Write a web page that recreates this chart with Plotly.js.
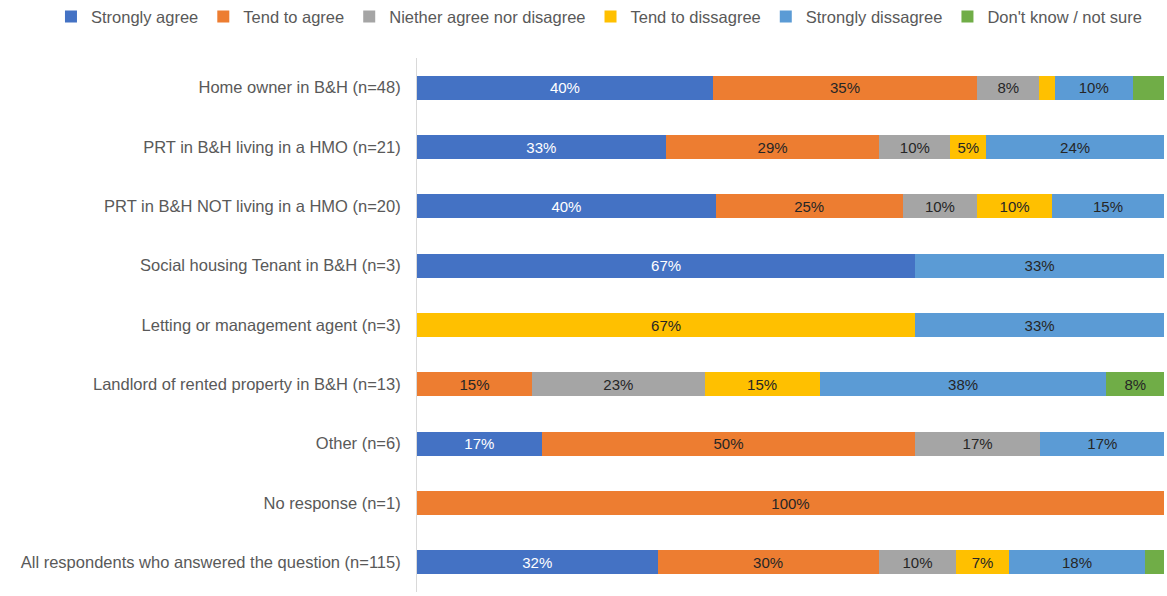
<!DOCTYPE html>
<html>
<head>
<meta charset="utf-8">
<script src="https://cdn.plot.ly/plotly-3.0.1.min.js"></script>
<style>
  html, body { margin: 0; padding: 0; background: #fff; }
  #chart { width: 1167px; height: 596px; }
</style>
</head>
<body>
<div id="chart"></div>
<script>
// respondent groups, top to bottom
var categories = [
    'Home owner in B&H (n=48)',
    'PRT in B&H living in a HMO (n=21)',
    'PRT in B&H NOT living in a HMO (n=20)',
    'Social housing Tenant in B&H (n=3)',
    'Letting or management agent (n=3)',
    'Landlord of rented property in B&H (n=13)',
    'Other (n=6)',
    'No response (n=1)',
    'All respondents who answered the question (n=115)'
];

var seriesNames = ['Strongly agree', 'Tend to agree', 'Niether agree nor disagree',
    'Tend to dissagree', 'Strongly dissagree', "Don't know / not sure"];

// percent of each group
var stronglyAgree    = [39.6, 33.3, 40, 66.7, 0, 0, 16.7, 0, 32.2];
var tendAgree        = [35.4, 28.6, 25, 0, 0, 15.4, 50, 100, 29.6];
var neither          = [8.3, 9.5, 10, 0, 0, 23.1, 16.7, 0, 10.4];
var tendDisagree     = [2.1, 4.8, 10, 0, 66.7, 15.4, 0, 0, 7.0];
var stronglyDisagree = [10.4, 23.8, 15, 33.3, 33.3, 38.4, 16.7, 0, 18.3];
var dontKnow         = [4.2, 0, 0, 0, 0, 7.7, 0, 0, 2.6];

var seriesValues = [stronglyAgree, tendAgree, neither, tendDisagree, stronglyDisagree, dontKnow];

var colors = ['#4472C4', '#ED7D31', '#A5A5A5', '#FFC000', '#5B9BD5', '#70AD47'];
var textColors = ['#ffffff', '#262626', '#262626', '#262626', '#262626', '#262626'];

// small slices were left unlabelled in the original
function labels(vals) {
    return vals.map(function (v) { return v >= 4.5 ? Math.round(v) + '%' : ''; });
}

var data = seriesValues.map(function (vals, i) {
    return {
        type: 'bar',
        orientation: 'h',
        name: seriesNames[i],
        x: vals,
        y: categories,
        text: labels(vals),
        textposition: 'inside',
        insidetextanchor: 'middle',
        textangle: 0,
        insidetextfont: { color: textColors[i], size: 15 },
        marker: { color: colors[i], line: { width: 0 } },
        hoverinfo: 'name+x'
    };
});

var layout = {
    barmode: 'stack',
    bargap: 0.6,
    width: 1167,
    height: 596,
    margin: { l: 417, r: 3, t: 58, b: 4, autoexpand: false },
    paper_bgcolor: '#ffffff',
    plot_bgcolor: '#ffffff',
    font: { family: 'Liberation Sans, Arial, sans-serif', size: 16, color: '#595959' },
    showlegend: true,
    legend: {
        orientation: 'h',
        traceorder: 'normal',
        x: -0.49,
        xanchor: 'left',
        y: 1.077,
        yanchor: 'middle',
        font: { size: 16.5, color: '#595959' }
    },
    xaxis: {
        range: [0, 100],
        visible: false,
        fixedrange: true
    },
    yaxis: {
        autorange: 'reversed',
        showline: true,
        linecolor: '#d9d9d9',
        linewidth: 1,
        showgrid: false,
        zeroline: false,
        ticks: '',
        ticklabelstandoff: 12,
        automargin: false,
        tickfont: { size: 16.5, color: '#595959' }
    }
};

Plotly.newPlot('chart', data, layout, { displayModeBar: false, staticPlot: true });
</script>
</body>
</html>
